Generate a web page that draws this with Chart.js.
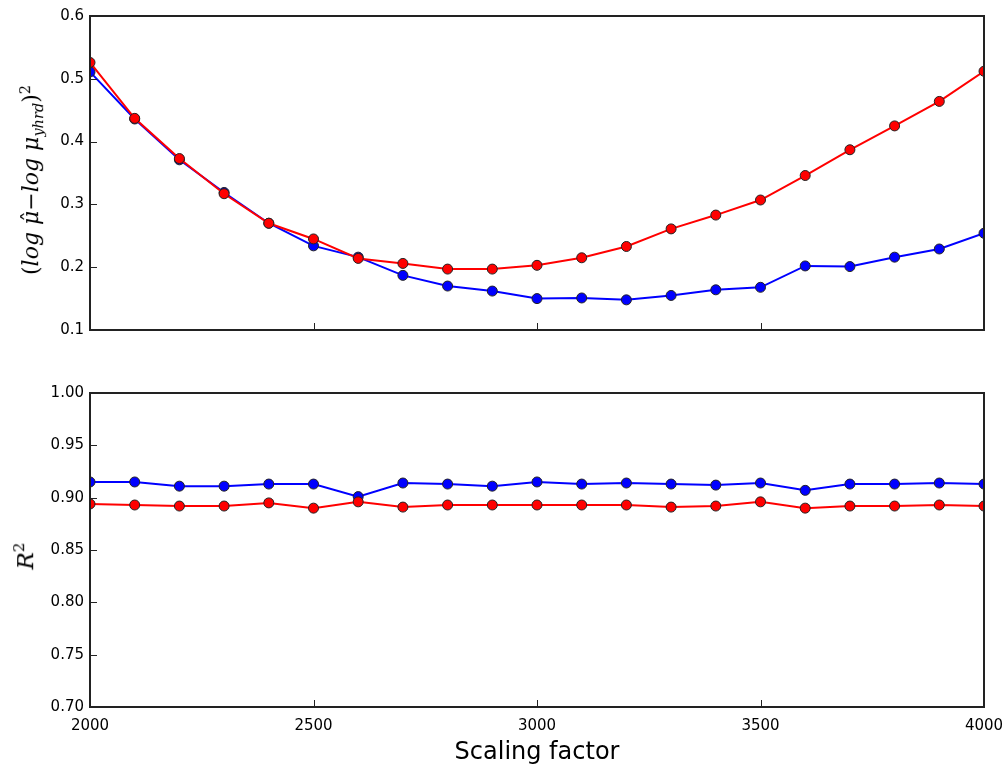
<!DOCTYPE html>
<html>
<head>
<meta charset="utf-8">
<script src="https://cdn.jsdelivr.net/npm/chart.js@4/dist/chart.umd.min.js"></script>
<style>
  body { margin: 0; background: #fff; width: 1007px; height: 770px; position: relative; overflow: hidden; }
  canvas { position: absolute; left: 0; }
  #top { top: 0; }
  #bottom { top: 370px; }
  .ylab {
    position: absolute;
    transform: translate(-50%, -50%) rotate(-90deg);
    white-space: nowrap;
    font-family: "DejaVu Serif", "Liberation Serif", serif;
    color: #000;
  }
  .ylab i { font-style: italic; }
  .ylab sub, .ylab sup { font-size: 66%; }
  .hat { position: relative; display: inline-block; }
  .hat b { position: absolute; left: 0.14em; top: -0.02em; font-weight: normal; font-style: normal; }
  #ylab1 { left: 32px; top: 180px; font-size: 22px; }
  #ylab2 { left: 24px; top: 556px; font-size: 23px; }
</style>
</head>
<body>
<canvas id="top" width="1007" height="360"></canvas>
<canvas id="bottom" width="1007" height="400"></canvas>
<div id="ylab1" class="ylab">(<i>log</i> <i class="hat">μ<b>ˆ</b></i>−<i>log</i> <i>μ<sub>yhrd</sub></i>)<sup>2</sup></div>
<div id="ylab2" class="ylab"><i>R</i><sup>2</sup></div>
<script>
// scaling factor on the x axis
const scalingFactor = [2000, 2100, 2200, 2300, 2400, 2500, 2600, 2700, 2800, 2900, 3000,
  3100, 3200, 3300, 3400, 3500, 3600, 3700, 3800, 3900, 4000];

// top panel: squared log error
const errBlue = [0.511, 0.436, 0.371, 0.319, 0.270, 0.234, 0.216, 0.187, 0.170, 0.162, 0.150,
  0.151, 0.148, 0.155, 0.164, 0.168, 0.202, 0.201, 0.216, 0.229, 0.254];
const errRed = [0.526, 0.437, 0.373, 0.317, 0.270, 0.245, 0.214, 0.206, 0.197, 0.197, 0.203,
  0.215, 0.233, 0.261, 0.283, 0.307, 0.346, 0.387, 0.425, 0.464, 0.512];

// bottom panel: R^2
const r2Blue = [0.915, 0.915, 0.911, 0.911, 0.913, 0.913, 0.901, 0.914, 0.913, 0.911, 0.915,
  0.913, 0.914, 0.913, 0.912, 0.914, 0.907, 0.913, 0.913, 0.914, 0.913];
const r2Red = [0.894, 0.893, 0.892, 0.892, 0.895, 0.890, 0.896, 0.891, 0.893, 0.893, 0.893,
  0.893, 0.893, 0.891, 0.892, 0.896, 0.890, 0.892, 0.892, 0.893, 0.892];

const tickFont = { family: 'DejaVu Sans', size: 15 };

// matplotlib-ish frame with inward ticks on bottom and left
const axesBox = {
  id: 'axesBox',
  afterDraw(chart) {
    const { ctx, chartArea: a, scales: { x, y } } = chart;
    ctx.save();
    ctx.strokeStyle = '#222';
    ctx.lineWidth = 1;
    ctx.beginPath();
    x.ticks.forEach(t => {
      const px = Math.round(x.getPixelForValue(t.value)) + 0.5;
      ctx.moveTo(px, a.bottom);
      ctx.lineTo(px, a.bottom - 7);
    });
    y.ticks.forEach(t => {
      const py = Math.round(y.getPixelForValue(t.value)) + 0.5;
      ctx.moveTo(a.left, py);
      ctx.lineTo(a.left + 7, py);
    });
    ctx.stroke();
    ctx.lineWidth = 2;
    ctx.strokeRect(a.left, a.top, a.right - a.left, a.bottom - a.top);
    ctx.restore();
  }
};

function series(values, color, order) {
  return {
    data: values.map((v, i) => ({ x: scalingFactor[i], y: v })),
    borderColor: color,
    backgroundColor: color,
    borderWidth: 2,
    pointRadius: 5,
    pointBorderColor: '#222',
    pointBorderWidth: 1,
    clip: 0,
    order
  };
}

function makeChart(id, blue, red, yMin, yMax, yStep, decimals, bottomPanel) {
  return new Chart(document.getElementById(id), {
    type: 'line',
    data: { datasets: [series(red, '#ff0000', 0), series(blue, '#0000ff', 1)] },
    options: {
      responsive: false,
      devicePixelRatio: 1,
      animation: false,
      events: [],
      layout: { padding: { top: bottomPanel ? 23 : 16, right: 23, left: 0, bottom: 0 } },
      plugins: { legend: { display: false }, tooltip: { enabled: false } },
      scales: {
        x: {
          type: 'linear',
          min: 2000, max: 4000,
          grid: { display: false, drawTicks: false },
          border: { display: false },
          ticks: {
            display: bottomPanel,
            stepSize: 500,
            padding: 10,
            color: '#000',
            font: tickFont,
            maxRotation: 0,
            callback: v => String(v)
          },
          title: {
            display: bottomPanel,
            text: 'Scaling factor',
            color: '#000',
            font: { family: 'DejaVu Sans', size: 24 },
            padding: { top: 0, bottom: 3 }
          },
          afterFit: s => {
            s.height = bottomPanel ? 63 : 30;
            s.paddingLeft = 0;
            s.paddingRight = 0;
          }
        },
        y: {
          min: yMin, max: yMax,
          grid: { display: false, drawTicks: false },
          border: { display: false },
          ticks: {
            stepSize: yStep,
            padding: 6,
            color: '#000',
            font: tickFont,
            callback: v => v.toFixed(decimals)
          },
          afterFit: s => {
            s.width = 90;
            s.paddingTop = 0;
            s.paddingBottom = 0;
          }
        }
      }
    },
    plugins: [axesBox]
  });
}

makeChart('top', errBlue, errRed, 0.1, 0.6, 0.1, 1, false);
makeChart('bottom', r2Blue, r2Red, 0.70, 1.00, 0.05, 2, true);
</script>
</body>
</html>
